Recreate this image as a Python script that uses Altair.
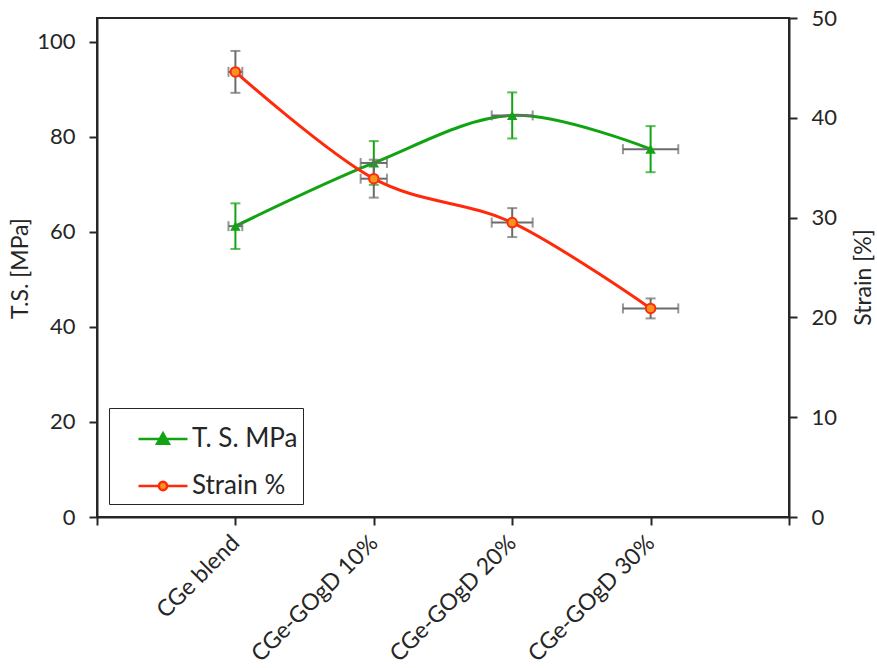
import altair as alt
import pandas as pd

# ---- data ----
categories = ["CGe blend", "CGe-GOgD 10%", "CGe-GOgD 20%", "CGe-GOgD 30%"]
ts_values = [61.2, 74.5, 84.5, 77.4]
ts_errors = [4.8, 4.6, 4.85, 4.85]
strain_values = [44.6, 33.9, 29.5, 20.9]
strain_errors = [2.1, 1.9, 1.45, 1.0]
x_errors = [0.05, 0.095, 0.148, 0.2]
series_names = ["T. S. MPa", "Strain %"]
left_ticks = [0, 20, 40, 60, 80, 100]
right_ticks = [0, 10, 20, 30, 40, 50]
x_ticks = [0, 1, 2, 3, 4, 5]

GREEN = "#12A312"
RED = "#FF2A0A"
ORANGE = "#F7931E"
GRAY = "#6B6B6B"
INK = "#262626"
FONT = "Lato"

pos = list(range(1, len(categories) + 1))
df = pd.DataFrame({
    "pos": pos,
    "cat": categories,
    "ts": ts_values,
    "ts_lo": [v - e for v, e in zip(ts_values, ts_errors)],
    "ts_hi": [v + e for v, e in zip(ts_values, ts_errors)],
    "st": strain_values,
    "st_lo": [v - e for v, e in zip(strain_values, strain_errors)],
    "st_hi": [v + e for v, e in zip(strain_values, strain_errors)],
    "x_lo": [p - e for p, e in zip(pos, x_errors)],
    "x_hi": [p + e for p, e in zip(pos, x_errors)],
})
legend_df = pd.DataFrame({"series": series_names})

label_list = [""] + categories + [""]
label_expr = "[" + ",".join("'" + s + "'" for s in label_list) + "][datum.value]"

x_axis = alt.Axis(values=x_ticks, labelExpr=label_expr, labelAngle=-45,
                  labelAlign="right", labelBaseline="middle", labelPadding=14,
                  labelFontSize=23, tickSize=8)
x_scale = alt.Scale(domain=[0, 5], nice=False, zero=False)


def X(field):
    return alt.X(field + ":Q", scale=x_scale, axis=x_axis, title=None)


left_axis = alt.Axis(values=left_ticks, orient="left", labelPadding=14,
                     titleAngle=270, titleX=-77, titleY=250,
                     titleAlign="center", titleBaseline="middle")
left_scale = alt.Scale(domain=[0, 105], nice=False, zero=True)


def YL(field):
    return alt.Y(field + ":Q", scale=left_scale, axis=left_axis, title="T.S. [MPa]")


right_axis = alt.Axis(values=right_ticks, orient="right", labelPadding=14,
                      titleAngle=270, titleX=74, titleY=259,
                      titleAlign="center", titleBaseline="middle")
right_scale = alt.Scale(domain=[0, 50], nice=False, zero=True)


def YR(field):
    return alt.Y(field + ":Q", scale=right_scale, axis=right_axis, title="Strain [%]")


base = alt.Chart(df)

# ---- T.S. series (left axis) ----
ts_line = base.mark_line(interpolate="cardinal", color=GREEN, strokeWidth=3).encode(x=X("pos"), y=YL("ts"))
ts_vrule = base.mark_rule(color=GREEN, strokeWidth=2).encode(x=X("pos"), y=YL("ts_lo"), y2="ts_hi")
ts_cap_lo = base.mark_tick(orient="horizontal", size=10, thickness=2, color=GREEN).encode(x=X("pos"), y=YL("ts_lo"))
ts_cap_hi = base.mark_tick(orient="horizontal", size=10, thickness=2, color=GREEN).encode(x=X("pos"), y=YL("ts_hi"))
ts_hrule = base.mark_rule(color=GRAY, strokeWidth=2).encode(x=X("x_lo"), x2="x_hi", y=YL("ts"))
ts_hcap_lo = base.mark_tick(orient="vertical", size=10, thickness=2, color=GRAY).encode(x=X("x_lo"), y=YL("ts"))
ts_hcap_hi = base.mark_tick(orient="vertical", size=10, thickness=2, color=GRAY).encode(x=X("x_hi"), y=YL("ts"))
ts_pts = base.mark_point(shape="triangle-up", filled=True, size=110, color=GREEN, opacity=1).encode(x=X("pos"), y=YL("ts"))

# ---- legend-only layer (draws nothing, feeds the legend) ----
leg_paths = [
    "M-1,0L1,0M-0.24,0.19L0,-0.23L0.24,0.19Z",
    "M-1,0L-0.17,0M0.17,0L1,0M-0.17,0A0.17,0.17,0,1,1,0.17,0A0.17,0.17,0,1,1,-0.17,0Z",
]
legend = alt.Legend(orient="none", legendX=12, legendY=390, title=None,
                    strokeColor=INK, fillColor="white", padding=5, symbolOffset=23,
                    symbolSize=2400, symbolStrokeWidth=2.5, labelFont=FONT,
                    labelFontSize=26, labelColor=INK, rowPadding=8, labelOffset=3,
                    labelLimit=300,
                    labelExpr="datum.label + '\\u00a0\\u00a0\\u00a0\\u00a0\\u00a0\\u00a0'")
legend_layer = alt.Chart(legend_df).mark_point(filled=True, strokeWidth=2.5, opacity=1).encode(
    fill=alt.Fill("series:N", scale=alt.Scale(domain=series_names, range=[GREEN, ORANGE]), legend=legend),
    stroke=alt.Stroke("series:N", scale=alt.Scale(domain=series_names, range=[GREEN, RED]), legend=legend),
    shape=alt.Shape("series:N", scale=alt.Scale(domain=series_names, range=leg_paths), legend=legend),
).transform_filter("false")

# ---- Strain series (right axis) ----
st_line = base.mark_line(interpolate="cardinal", color=RED, strokeWidth=3).encode(x=X("pos"), y=YR("st"))
st_vrule = base.mark_rule(color=GRAY, strokeWidth=2).encode(x=X("pos"), y=YR("st_lo"), y2="st_hi")
st_cap_lo = base.mark_tick(orient="horizontal", size=10, thickness=2, color=GRAY).encode(x=X("pos"), y=YR("st_lo"))
st_cap_hi = base.mark_tick(orient="horizontal", size=10, thickness=2, color=GRAY).encode(x=X("pos"), y=YR("st_hi"))
st_hrule = base.mark_rule(color=GRAY, strokeWidth=2).encode(x=X("x_lo"), x2="x_hi", y=YR("st"))
st_hcap_lo = base.mark_tick(orient="vertical", size=10, thickness=2, color=GRAY).encode(x=X("x_lo"), y=YR("st"))
st_hcap_hi = base.mark_tick(orient="vertical", size=10, thickness=2, color=GRAY).encode(x=X("x_hi"), y=YR("st"))
st_pts = base.mark_point(shape="circle", filled=True, size=90, fill=ORANGE, stroke=RED,
                         strokeWidth=2, opacity=1).encode(x=X("pos"), y=YR("st"))

left = alt.layer(ts_line, ts_vrule, ts_cap_lo, ts_cap_hi, ts_hrule, ts_hcap_lo, ts_hcap_hi, ts_pts, legend_layer)
right = alt.layer(st_line, st_vrule, st_cap_lo, st_cap_hi, st_hrule, st_hcap_lo, st_hcap_hi, st_pts)

chart = alt.layer(left, right).resolve_scale(y="independent").properties(
    width=692, height=499,
    padding={"left": 97, "top": 18, "right": 88, "bottom": 151},
    autosize=alt.AutoSizeParams(type="none"),
    background="white",
).configure_axis(
    labelFont=FONT, labelFontSize=22, labelColor=INK,
    titleFont=FONT, titleFontSize=23, titleFontWeight="normal", titleColor=INK,
    domainColor=INK, domainWidth=2, tickColor=INK, tickWidth=2, tickSize=8,
    grid=False,
).configure_view(stroke=INK, strokeWidth=2)

chart.save("out.html", embed_options={"renderer": "svg", "actions": False})
